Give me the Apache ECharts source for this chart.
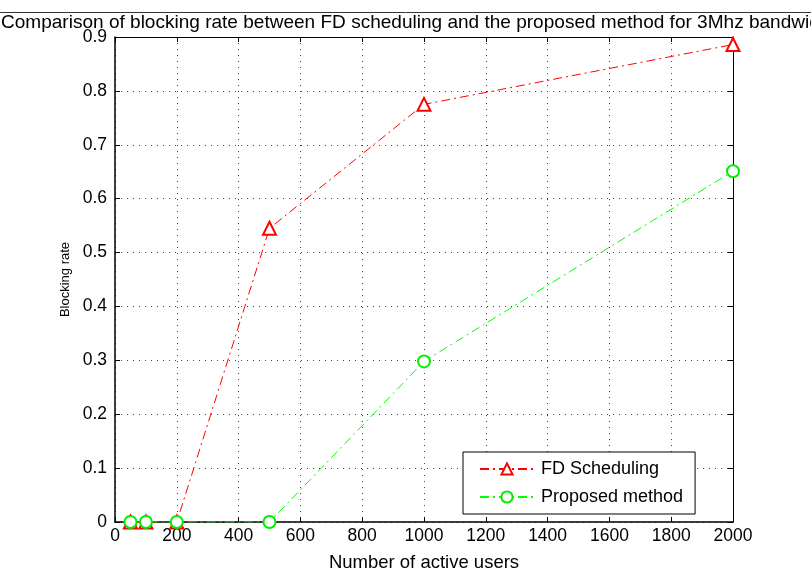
<!DOCTYPE html>
<html>
<head>
<meta charset="utf-8">
<script src="https://cdn.jsdelivr.net/npm/echarts@6/dist/echarts.min.js"></script>
<style>
  html, body { margin: 0; padding: 0; background: #fff; }
  #chart { width: 811px; height: 577px; }
</style>
</head>
<body>
<div id="chart"></div>
<script>
// values
const users = [50, 100, 200, 500, 1000, 2000];
const fdRate = [0, 0, 0, 0.545, 0.775, 0.886];
const proposedRate = [0, 0, 0, 0, 0.298, 0.651];
const xTicks = [0, 200, 400, 600, 800, 1000, 1200, 1400, 1600, 1800, 2000];
const yTicks = [0, 0.1, 0.2, 0.3, 0.4, 0.5, 0.6, 0.7, 0.8, 0.9];

const font = "'Liberation Sans', Arial, sans-serif";
const chart = echarts.init(document.getElementById("chart"));

const pairs = (ys) => users.map((u, i) => [u, ys[i]]);

const inTick = { show: true, inside: true, length: 5, lineStyle: { color: "#000" } };
const dotted = { show: true, lineStyle: { color: "#444", type: [1, 5], width: 1 } };

chart.setOption({
    animation: false,
    backgroundColor: "#fff",
    title: {
        text: "Comparison of blocking rate between FD scheduling and the proposed method for 3Mhz bandwidth",
        left: -4,
        top: 8,
        textStyle: { fontFamily: font, fontSize: 19.05, fontWeight: "normal", color: "#000" }
    },
    grid: { left: 115, right: 78, top: 37, bottom: 54 },
    xAxis: [
        {
            type: "value", min: 0, max: 2000, interval: 200,
            name: "Number of active users", nameLocation: "middle", nameGap: 31,
            nameTextStyle: { fontFamily: font, fontSize: 18.5, color: "#000" },
            axisLine: { show: true, onZero: false, lineStyle: { color: "#000", width: 1.5 } },
            axisTick: inTick,
            axisLabel: { fontFamily: font, fontSize: 17.5, color: "#000", margin: 5,
                formatter: (v) => xTicks.includes(v) ? String(v) : "" },
            splitLine: dotted
        },
        {
            type: "value", min: 0, max: 2000, interval: 200, position: "top",
            axisLine: { show: true, onZero: false, lineStyle: { color: "#000" } },
            axisTick: inTick, axisLabel: { show: false }, splitLine: { show: false }
        }
    ],
    yAxis: [
        {
            type: "value", min: 0, max: 0.9, interval: 0.1,
            name: "Blocking rate", nameLocation: "middle", nameGap: 38,
            nameTextStyle: { fontFamily: font, fontSize: 13, color: "#000" },
            axisLine: { show: true, onZero: false, lineStyle: { color: "#000", width: 1.5 } },
            axisTick: inTick,
            axisLabel: { fontFamily: font, fontSize: 17.5, color: "#000", margin: 8,
                formatter: (v) => {
                    const t = yTicks.find((k) => Math.abs(k - v) < 1e-6);
                    return t === undefined ? "" : String(t);
                } },
            splitLine: dotted
        },
        {
            type: "value", min: 0, max: 0.9, interval: 0.1, position: "right",
            axisLine: { show: true, onZero: false, lineStyle: { color: "#000" } },
            axisTick: inTick, axisLabel: { show: false }, splitLine: { show: false }
        }
    ],
    legend: {
        left: 463, top: 452,
        orient: "vertical",
        itemWidth: 54, itemHeight: 14, itemGap: 10,
        padding: [8, 12, 8, 16],
        backgroundColor: "#fff",
        borderColor: "#000", borderWidth: 1,
        textStyle: { fontFamily: font, fontSize: 18, color: "#000", padding: [0, 0, 0, 2] },
        data: ["FD Scheduling", "Proposed method"]
    },
    series: [
        {
            name: "FD Scheduling", type: "line",
            data: pairs(fdRate),
            symbol: "emptyTriangle", symbolSize: 13,
            lineStyle: { color: "#ff0000", width: 1, type: [9, 4, 2, 4] },
            itemStyle: { color: "#ff0000", borderWidth: 1.3 },
            z: 3
        },
        {
            name: "Proposed method", type: "line",
            data: pairs(proposedRate),
            symbol: "emptyCircle", symbolSize: 12,
            lineStyle: { color: "#00ff00", width: 1, type: [9, 4, 2, 4] },
            itemStyle: { color: "#00ee00", borderWidth: 1.2 },
            z: 4
        }
    ],
    graphic: [
        {
            type: "line",
            shape: { x1: 0, y1: 12.5, x2: 811, y2: 12.5 },
            style: { stroke: "#333", lineWidth: 1 }
        }
    ]
});
</script>
</body>
</html>
